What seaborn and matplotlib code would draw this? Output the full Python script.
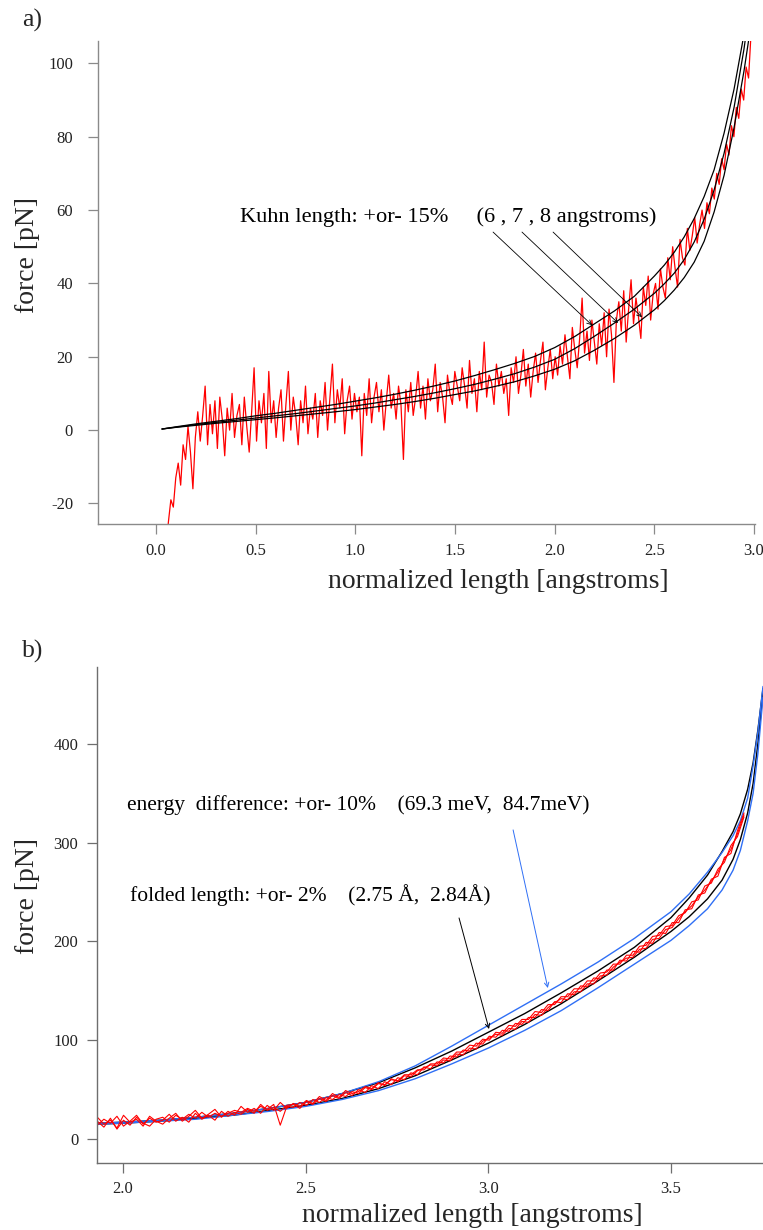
import numpy as np
import matplotlib
matplotlib.use("Agg")
import matplotlib.pyplot as plt
import seaborn as sns

# ---------------- data: panel a ----------------
a_curve_x = [0.03, 0.1, 0.2, 0.3, 0.4, 0.5, 0.6, 0.7, 0.8, 0.9, 1.0, 1.1, 1.2, 1.3, 1.4,
             1.5, 1.6, 1.7, 1.8, 1.9, 2.0, 2.1, 2.2, 2.3, 2.4, 2.5, 2.55, 2.6, 2.65, 2.7,
             2.75, 2.8, 2.85, 2.9, 2.95, 3.0]
a_kuhn6 = [0.3, 0.9, 1.7, 2.4, 3.1, 3.9, 4.6, 5.4, 6.2, 7.0, 7.9, 8.8, 9.8, 10.9, 12.1,
           13.4, 14.9, 16.5, 18.2, 20.1, 22.5, 25.5, 29.0, 32.5, 36.5, 42.0, 45.0, 48.5, 52.7, 57.7,
           63.7, 71.0, 81.0, 93.0, 108.0, 127.0]
a_kuhn7 = [0.3, 0.8, 1.5, 2.1, 2.7, 3.3, 3.9, 4.5, 5.2, 5.9, 6.6, 7.4, 8.3, 9.2, 10.2,
           11.3, 12.5, 13.9, 15.4, 17.2, 19.3, 22.2, 25.6, 29.2, 33.0, 37.3, 39.9, 42.8, 46.5, 51.3,
           57.5, 65.5, 75.5, 88.0, 104.0, 124.0]
a_kuhn8 = [0.3, 0.75, 1.3, 1.85, 2.35, 2.85, 3.35, 3.9, 4.45, 5.0, 5.6, 6.3, 7.0, 7.8, 8.7,
           9.7, 10.7, 11.9, 13.2, 14.8, 16.6, 18.9, 21.8, 25.0, 28.6, 32.8, 35.3, 38.2, 41.6, 45.8,
           51.5, 59.5, 69.5, 82.5, 98.0, 116.0]

a_data_x = np.linspace(0.05, 2.985, 240)
a_data_force = [
    -32, -25, -19, -21, -13, -9, -15, -4, -8, 1, -6, -16, -2, 5, -3, 4, 12, -4, 7, -1,
    8, -5, 9, 3, -7, 6, 0, 10, -2, 4, 7, -4, 9, 1, -6, 5, 17, -3, 8, 2,
    10, -5, 16, 2, 8, -2, 6, 11, -3, 7, 16, 0, 9, 4, -4, 8, 2, 12, -1, 6,
    3, 10, -2, 8, 4, 13, 0, 9, 18, 2, 11, 6, 14, -1, 8, 12, 3, 10, 5, 9,
    -7, 10, 4, 14, 2, 9, 13, 5, 11, 0, 8, 15, 6, 10, 3, 12, 7, -8, 11, 5,
    13, 4, 9, 16, 6, 12, 3, 14, 8, 11, 18, 5, 13, 9, 2, 15, 10, 7, 16, 12,
    8, 17, 12, 6, 19, 10, 14, 5, 16, 11, 24, 9, 15, 13, 7, 18, 12, 16, 10, 14,
    4, 17, 13, 20, 10, 15, 22, 12, 18, 9, 16, 21, 13, 19, 24, 11, 17, 22, 14, 20,
    15, 23, 18, 26, 20, 14, 28, 22, 17, 25, 36, 21, 27, 19, 30, 24, 18, 29, 23, 32,
    20, 33, 26, 13, 30, 35, 27, 38, 24, 33, 41, 29, 36, 31, 25, 39, 34, 42, 30, 37,
    40, 33, 44, 39, 36, 47, 41, 50, 44, 39, 52, 47, 45, 55, 49, 53, 58, 51, 56, 60,
    55, 62, 59, 66, 63, 70, 67, 74, 71, 78, 75, 83, 80, 88, 85, 93, 90, 99, 96, 108,
]

a_xticks = [0.0, 0.5, 1.0, 1.5, 2.0, 2.5, 3.0]
a_yticks = [-20, 0, 20, 40, 60, 80, 100]

# ---------------- data: panel b ----------------
b_curve_x = [1.93, 2.0, 2.1, 2.2, 2.3, 2.4, 2.5, 2.6, 2.7, 2.8, 2.9, 3.0, 3.1, 3.2, 3.3,
             3.4, 3.5, 3.55, 3.6, 3.64, 3.67, 3.69, 3.71, 3.725, 3.738, 3.752]
b_energy_hi = [16, 17, 19, 22, 26, 31, 37, 46, 58, 74, 94, 115, 136, 157, 179,
               203, 230, 248, 270, 290, 307, 322, 345, 378, 412, 458]
b_length_hi = [16, 17, 19, 22, 26, 31, 37, 46, 57, 72, 89, 108, 127, 148, 170,
               194, 224, 244, 267, 291, 311, 329, 354, 381, 414, 456]
b_length_lo = [15, 16, 18, 21, 24, 29, 34, 41, 51, 64, 80, 97, 116, 137, 160,
               184, 210, 225, 243, 262, 283, 303, 330, 360, 400, 452]
b_energy_lo = [15, 16, 18, 20, 24, 28, 33, 40, 49, 61, 76, 92, 110, 130, 153,
               177, 201, 216, 233, 252, 272, 292, 322, 350, 390, 447]

b_data_x = np.linspace(1.93, 3.70, 100)
b_trace1 = [
    18, 12, 21, 10, 19, 14, 22, 16, 13, 20,
    22, 17, 24, 20, 25, 21, 27, 22, 26, 23,
    26, 29, 27, 31, 28, 33, 30, 35, 14, 33,
    32, 37, 34, 40, 37, 42, 40, 45, 43, 48,
    46, 52, 50, 56, 55, 60, 59, 65, 65, 70,
    70, 76, 76, 82, 81, 88, 88, 95, 94, 101,
    100, 108, 107, 115, 114, 121, 121, 129, 128, 136,
    136, 144, 144, 152, 152, 160, 160, 168, 169, 177,
    177, 186, 186, 195, 196, 205, 206, 215, 216, 226,
    229, 240, 242, 256, 259, 273, 280, 297, 306, 326,
]
b_trace2 = [
    14, 20, 16, 23, 13, 18, 24, 15, 21, 17,
    19, 25, 18, 22, 17, 26, 20, 24, 19, 28,
    23, 27, 25, 30, 26, 35, 29, 32, 28, 34,
    35, 31, 38, 35, 41, 38, 44, 41, 47, 44,
    50, 47, 54, 51, 58, 55, 62, 60, 67, 65,
    73, 71, 78, 77, 84, 83, 90, 89, 97, 96,
    104, 103, 110, 109, 117, 116, 123, 123, 131, 130,
    139, 138, 147, 146, 155, 154, 163, 162, 171, 171,
    181, 180, 190, 189, 199, 198, 209, 208, 219, 219,
    232, 233, 247, 249, 263, 266, 285, 289, 312, 330,
]
b_trace3 = [
    22, 15, 19, 11, 24, 17, 20, 13, 23, 18,
    15, 21, 26, 18, 23, 29, 21, 25, 30, 22,
    28, 24, 33, 27, 31, 26, 34, 29, 37, 31,
    36, 33, 39, 36, 43, 39, 46, 42, 49, 46,
    48, 53, 51, 57, 54, 61, 58, 64, 63, 69,
    72, 75, 74, 80, 79, 86, 85, 92, 91, 99,
    102, 106, 105, 112, 111, 119, 118, 126, 125, 133,
    138, 142, 141, 149, 149, 157, 157, 165, 166, 174,
    179, 183, 184, 192, 193, 202, 203, 212, 214, 223,
    230, 236, 245, 252, 261, 270, 283, 293, 309, 328,
]

b_xticks = [2.0, 2.5, 3.0, 3.5]
b_yticks = [0, 100, 200, 300, 400]

# ---------------- style ----------------
sns.set_theme(style="ticks")
plt.rcParams["font.family"] = ["Liberation Serif", "DejaVu Serif"]

W, H = 763, 1230
fig = plt.figure(figsize=(W / 100, H / 100), dpi=100)
fig.patch.set_facecolor("white")

RED = "#ff0000"
BLUE = "#2f6ff5"


def style_axes(ax, spine_col, pad_x, pad_y):
    for s in ["top", "right"]:
        ax.spines[s].set_visible(False)
    for s in ["left", "bottom"]:
        ax.spines[s].set_color(spine_col)
        ax.spines[s].set_linewidth(1.0)
    ax.set_facecolor("white")
    ax.grid(False)
    ax.tick_params(axis="both", direction="out", length=7, width=0.9,
                   color=spine_col, labelcolor="#222222", labelsize=12)
    ax.tick_params(axis="x", pad=pad_x)
    ax.tick_params(axis="y", pad=pad_y)


# ---------------- panel a ----------------
ax1 = fig.add_axes([98 / W, 1 - 524 / H, 657 / W, 483 / H])
sns.lineplot(x=a_data_x, y=a_data_force, ax=ax1, color=RED, lw=0.9,
             estimator=None, sort=False)
for yv in (a_kuhn6, a_kuhn7, a_kuhn8):
    sns.lineplot(x=a_curve_x, y=yv, ax=ax1, color="black", lw=0.9,
                 estimator=None, sort=False)
ax1.set_xlim(-0.291, 3.005)
ax1.set_ylim(-25.6, 106.1)
ax1.set_xticks(a_xticks)
ax1.set_xticklabels([f"{v:.1f}" for v in a_xticks])
ax1.set_yticks(a_yticks)
ax1.set_yticklabels([str(v) for v in a_yticks])
ax1.set_xlabel("")
ax1.set_ylabel("")
style_axes(ax1, "#8a8a8a", 7, 11)

ax1.text(0.421, 58.1, "Kuhn length: +or- 15%     (6 , 7 , 8 angstroms)",
         fontsize=16.1, va="center", ha="left", color="black")
for (x0, y0), (x1, y1) in [((1.691, 54.0), (2.188, 28.6)),
                           ((1.836, 54.0), (2.318, 29.2)),
                           ((1.992, 54.0), (2.438, 30.8))]:
    ax1.annotate("", xy=(x1, y1), xytext=(x0, y0),
                 arrowprops=dict(arrowstyle="->", color="black", lw=0.6,
                                 shrinkA=0, shrinkB=0, mutation_scale=8))

fig.text(22 / W, 1 - 20 / H, "a)", fontsize=18.5, ha="left", va="center")
fig.text(27 / W, 1 - 255 / H, "force [pN]", fontsize=20, rotation=90,
         ha="center", va="center")
fig.text(498 / W, 1 - 582 / H, "normalized length [angstroms]", fontsize=20,
         ha="center", va="center")

# ---------------- panel b ----------------
ax2 = fig.add_axes([97 / W, 1 - 1163 / H, 666 / W, 496 / H])
for yv in (b_length_hi, b_length_lo):
    sns.lineplot(x=b_curve_x, y=yv, ax=ax2, color="black", lw=1.0,
                 estimator=None, sort=False)
for yv in (b_energy_hi, b_energy_lo):
    sns.lineplot(x=b_curve_x, y=yv, ax=ax2, color=BLUE, lw=1.0,
                 estimator=None, sort=False)
for yv in (b_trace1, b_trace2, b_trace3):
    sns.lineplot(x=b_data_x, y=yv, ax=ax2, color=RED, lw=0.8,
                 estimator=None, sort=False)
ax2.set_xlim(1.929, 3.752)
ax2.set_ylim(-24.3, 477.7)
ax2.set_xticks(b_xticks)
ax2.set_xticklabels([f"{v:.1f}" for v in b_xticks])
ax2.set_yticks(b_yticks)
ax2.set_yticklabels([str(v) for v in b_yticks])
ax2.set_xlabel("")
ax2.set_ylabel("")
style_axes(ax2, "#6e6e6e", 6, 6.5)

ax2.text(2.011, 338, "energy  difference: +or- 10%    (69.3 meV,  84.7meV)",
         fontsize=15.5, va="center", ha="left", color="black")
ax2.text(2.019, 247, "folded length: +or- 2%    (2.75 Å,  2.84Å)",
         fontsize=15.5, va="center", ha="left", color="black")
ax2.annotate("", xy=(3.163, 152.8), xytext=(3.068, 312.8),
             arrowprops=dict(arrowstyle="->", color=BLUE, lw=0.7,
                             shrinkA=0, shrinkB=0, mutation_scale=8))
ax2.annotate("", xy=(3.002, 111.3), xytext=(2.920, 223.7),
             arrowprops=dict(arrowstyle="->", color="black", lw=0.7,
                             shrinkA=0, shrinkB=0, mutation_scale=8))

fig.text(22 / W, 1 - 651 / H, "b)", fontsize=18.5, ha="left", va="center")
fig.text(27 / W, 1 - 896 / H, "force [pN]", fontsize=20, rotation=90,
         ha="center", va="center")
fig.text(472 / W, 1 - 1215 / H, "normalized length [angstroms]", fontsize=20,
         ha="center", va="center")

fig.savefig("out.png", dpi=100, facecolor="white")
